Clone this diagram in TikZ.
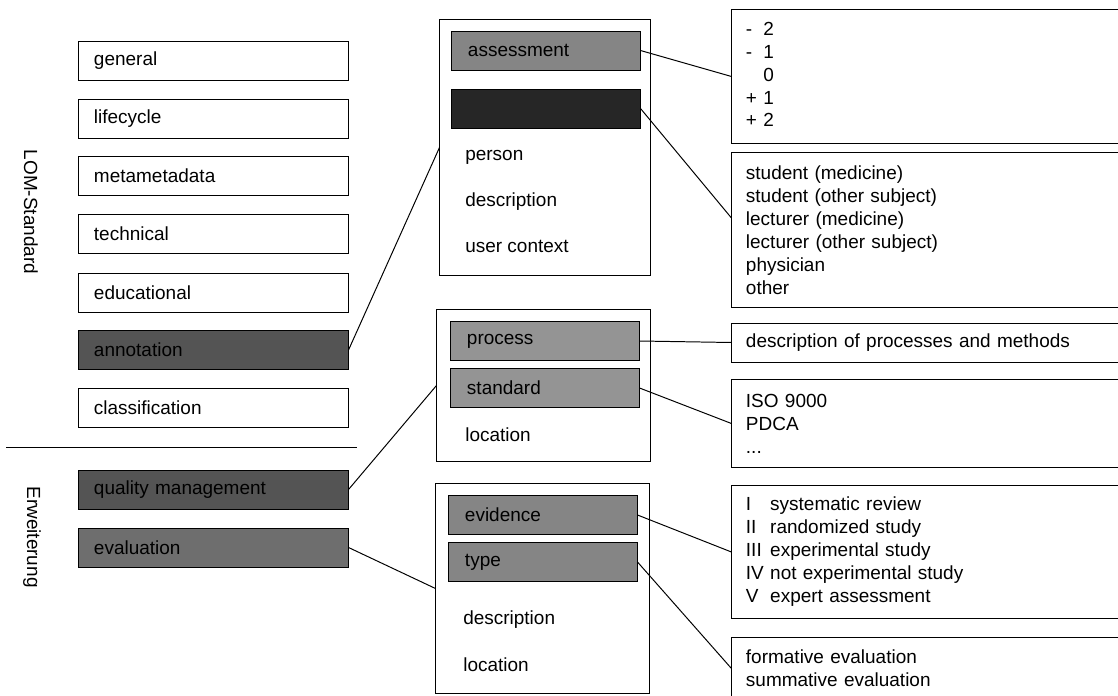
\documentclass[tikz,border=0pt]{standalone}
\usepackage{fontspec}
\setmainfont{Liberation Sans}
\newcommand{\lomfont}{\fontsize{13.5}{16.3}\selectfont}
\definecolor{shadedark}{gray}{0.33}
\definecolor{shadedeep}{gray}{0.15}
\definecolor{shademid}{gray}{0.52}
\definecolor{shadelight}{gray}{0.58}
\tikzstyle{category} = [rectangle, draw, line width=0.7pt, text width=5.975cm, inner xsep=0.375cm, minimum height=0.975cm, align=left, font=\lomfont]
\tikzstyle{extension} = [category, fill=shadedark]
\tikzstyle{group} = [rectangle, draw, line width=0.7pt]
\tikzstyle{element} = [rectangle, draw, line width=0.7pt, text width=3.9cm, inner xsep=0.4cm, minimum height=0.975cm, align=left, font=\lomfont]
\tikzstyle{attribute} = [anchor=west, inner sep=0pt, font=\lomfont]
\tikzstyle{values} = [rectangle, draw, line width=0.7pt, text width=9.125cm, inner xsep=0.35cm, align=left, font=\lomfont]
\tikzstyle{link} = [line width=0.7pt]
\begin{document}
\begin{tikzpicture}[x=0.025cm, y=-0.025cm]
               \clip (0,0) rectangle (1118,696);
               % LOM categories
               \node [category] at (213.5,60.5) (general) {general};
               \node [category] at (213.5,118.5) (lifecycle) {lifecycle};
               \node [category] at (213.5,176) (metametadata) {metametadata};
               \node [category] at (213.5,234) (technical) {technical};
               \node [category] at (213.5,292.5) (educational) {educational};
               \node [extension] at (213.5,350) (annotation) {annotation};
               \node [category] at (213.5,408) (classification) {classification};
               \node [extension] at (213.5,489.5) (quality) {quality management};
               \node [extension, fill=shadedark!85!white] at (213.5,547.5) (evaluation) {evaluation};
               \node [rotate=-90, font=\lomfont] at (31,212) (lomlabel) {LOM-Standard};
               \node [rotate=-90, font=\lomfont] at (32,537) (extlabel) {Erweiterung};
               \coordinate (sepleft) at (6,447);
               \coordinate (sepright) at (357,447);
               \draw [link] (sepleft) -- (sepright);
               % groups
               \node [group, minimum width=5.25cm, minimum height=6.375cm] at (545,147.5) (annobox) {};
               \node [group, minimum width=5.325cm, minimum height=3.775cm] at (543.5,385.5) (qmbox) {};
               \node [group, minimum width=5.325cm, minimum height=5.225cm] at (542.5,588.5) (evalbox) {};
               \node [element, fill=shademid] at (546,50.5) (assessment) {assessment};
               \node [element, fill=shadedeep] at (546,108.5) (role) {};
               \node [attribute] at (465,157) (person) {person};
               \node [attribute] at (465,202) (annodesc) {description};
               \node [attribute] at (465,246) (usercontext) {user context};
               \node [element, fill=shadelight] at (545,341) (process) {process};
               \node [element, fill=shadelight] at (545,388) (standard) {standard};
               \node [attribute] at (465,435) (qmlocation) {location};
               \node [element, fill=shademid] at (543,515) (evidence) {evidence};
               \node [element, fill=shademid] at (543,562) (type) {type};
               \node [attribute] at (463,620) (evaldesc) {description};
               \node [attribute] at (463,665) (evallocation) {location};
               % value lists
               \node [values, minimum height=3.325cm] at (928.5,76.5) (scalebox) {\begin{tabular}{@{}l@{\ }l@{}}-&2\\-&1\\&0\\+&1\\+&2\end{tabular}};
               \node [values, minimum height=3.85cm] at (928.5,230) (rolebox) {student (medicine)\\student (other subject)\\lecturer (medicine)\\lecturer (other subject)\\physician\\other};
               \node [values, minimum height=0.975cm] at (928.5,342.5) (procbox) {description of processes and methods};
               \node [values, minimum height=2.175cm] at (928.5,423.5) (isobox) {ISO 9000\\PDCA\\...};
               \node [values, minimum height=3.3cm] at (928.5,552) (levelbox) {\begin{tabular}{@{}l@{\ }l@{}}I&systematic review\\II&randomized study\\III&experimental study\\IV&not experimental study\\V&expert assessment\end{tabular}};
               \node [values, minimum height=1.575cm] at (928.5,668.5) (formbox) {formative evaluation\\summative evaluation};
               % connectors
               \draw [link] (annotation.east) -- (annobox.west);
               \draw [link] (quality.east) -- (qmbox.west);
               \draw [link] (evaluation.east) -- (evalbox.west);
               \draw [link] (assessment.east) -- (scalebox.west);
               \draw [link] (role.east) -- ([yshift=0.3cm]rolebox.west);
               \draw [link] (process.east) -- (procbox.west);
               \draw [link] (standard.east) -- (isobox.west);
               \draw [link] (evidence.east) -- (levelbox.west);
               \draw [link] (type.east) -- (formbox.west);
               \end{tikzpicture}
\end{document}
